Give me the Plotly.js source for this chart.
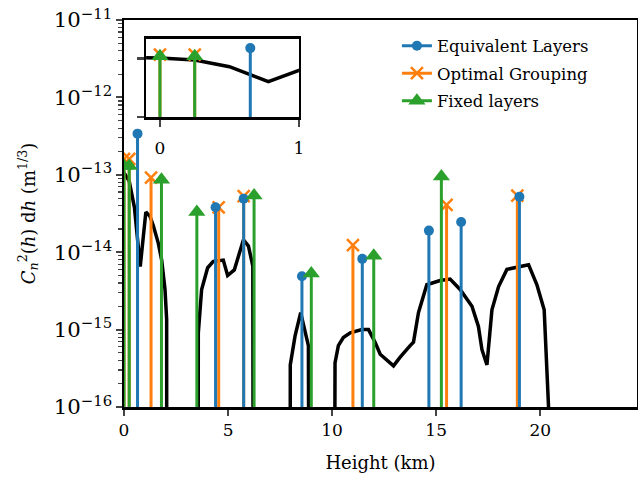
<!DOCTYPE html>
<html><head><meta charset="utf-8">
<script src="https://cdn.plot.ly/plotly-3.0.1.min.js"></script>
<style>html,body{margin:0;padding:0;background:#fff}#chart{width:638px;height:479px}</style>
</head><body><div id="chart"></div>
<script>
// Black profile: height (km) and Cn2(h) dh (0 = no turbulence)
const profileHeights = [-0.1, 0, 0.25, 0.5, 0.78, 1.05, 1.25, 1.41, 1.65, 1.81, 1.97, 2.05, 2.07,
  3.52, 3.57, 3.73, 4.02, 4.29, 4.77, 4.98, 5.30, 5.53, 5.74, 5.98, 6.19, 6.27,
  7.97, 7.99, 8.22, 8.49, 8.86, 9.02,
  10.0, 10.14, 10.30, 10.54, 10.87, 11.43, 11.75, 12.07, 12.31, 12.95, 13.27, 13.75, 13.91,
  14.15, 14.55, 15.19, 15.67, 16.15, 16.72, 17.03, 17.2, 17.44, 17.68, 18.0, 18.4, 19.44,
  19.84, 20.19, 20.4, 20.45];
const profileValues = [1.1e-13, 1.07e-13, 8.3e-14, 3.8e-14, 6.5e-15, 3.3e-14, 2.9e-14, 2.2e-14, 1.3e-14, 7.9e-15, 3.3e-15, 1.35e-15, 0,
  0, 9e-16, 3.3e-15, 6.3e-15, 7.6e-15, 7.9e-15, 5.0e-15, 5.9e-15, 9.8e-15, 1.45e-14, 1.2e-14, 6.6e-15, 0,
  0, 3.5e-16, 8.3e-16, 1.66e-15, 6.2e-16, 0,
  0, 3.7e-16, 6.2e-16, 7.9e-16, 9.1e-16, 1.0e-15, 1.0e-15, 6.8e-16, 4.8e-16, 3.4e-16, 4.4e-16, 6.2e-16, 6.9e-16,
  1.66e-15, 3.8e-15, 4.3e-15, 4.5e-15, 3.3e-15, 2.0e-15, 1.1e-15, 5.5e-16, 3.5e-16, 1.8e-15, 3.6e-15, 6.0e-15, 6.9e-15,
  3.8e-15, 1.8e-15, 1.0e-16, 0];

const seriesNames = ['Equivalent Layers', 'Optimal Grouping', 'Fixed layers'];
const eqHeights = [0.65, 4.4, 5.75, 8.55, 11.45, 14.65, 16.2, 19.0];
const eqValues = [3.4e-13, 3.8e-14, 4.9e-14, 4.9e-15, 8.2e-15, 1.9e-14, 2.45e-14, 5.2e-14];
const optHeights = [0, 0.25, 1.3, 4.55, 5.75, 11.0, 15.5, 18.9];
const optValues = [1.6e-13, 1.6e-13, 9.2e-14, 3.8e-14, 5.3e-14, 1.23e-14, 4.1e-14, 5.4e-14];
const fixHeights = [0, 0.25, 1.8, 3.5, 6.25, 9.0, 12.0, 15.25];
const fixValues = [1.3e-13, 1.3e-13, 8.6e-14, 3.3e-14, 5.4e-14, 5.3e-15, 9.0e-15, 9.5e-14];

const xTicks = [0, 5, 10, 15, 20];
const insetXTicks = [0, 1];
const insetYTicks = [1e-16, 1e-13];

const FLOOR = 1e-30;      // log-scale clip for zero values
const STEM_BASE = 1e-17;  // stem baseline below the visible range
const C_EQ = '#1f77b4', C_OPT = '#ff7f0e', C_FIX = '#2ca02c';

function stemXY(hs, vs) {
  const x = [], y = [];
  hs.forEach((h, i) => { x.push(h, h, null); y.push(STEM_BASE, vs[i], null); });
  return {x, y};
}
const profY = profileValues.map(v => v > 0 ? v : FLOOR);

function makeTraces(xa, ya, legend) {
  const eq = stemXY(eqHeights, eqValues), op = stemXY(optHeights, optValues), fx = stemXY(fixHeights, fixValues);
  return [
    {x: profileHeights, y: profY, xaxis: xa, yaxis: ya, mode: 'lines', line: {color: '#000', width: 3.5}, showlegend: false, hoverinfo: 'skip'},
    {x: op.x, y: op.y, xaxis: xa, yaxis: ya, mode: 'lines+markers', name: seriesNames[1], legendrank: 2, legendgroup: 'g2', showlegend: legend,
     line: {color: C_OPT, width: 3}, marker: {symbol: 'x-thin-open', size: 12, color: C_OPT, line: {color: C_OPT, width: 2.5}}},
    {x: eq.x, y: eq.y, xaxis: xa, yaxis: ya, mode: 'lines+markers', name: seriesNames[0], legendrank: 1, legendgroup: 'g1', showlegend: legend,
     line: {color: C_EQ, width: 3}, marker: {symbol: 'circle', size: 10, color: C_EQ}},
    {x: fx.x, y: fx.y, xaxis: xa, yaxis: ya, mode: 'lines+markers', name: seriesNames[2], legendrank: 3, legendgroup: 'g3', showlegend: legend,
     line: {color: C_FIX, width: 3}, marker: {symbol: 'triangle-up', size: 15, color: C_FIX}}
  ];
}

const data = makeTraces('x', 'y', true).concat(makeTraces('x2', 'y2', false));

const FONT = 'DejaVu Serif';
const F = (s) => ({family: FONT, size: s, color: '#000'});
const layout = {
  width: 638, height: 479,
  margin: {l: 124, r: 1, t: 20, b: 72},
  paper_bgcolor: '#fff', plot_bgcolor: '#fff',
  font: F(17),
  showlegend: true,
  legend: {x: 0.532, y: 0.978, xanchor: 'left', yanchor: 'top', font: F(16.5), tracegroupgap: 3,
           bgcolor: 'rgba(255,255,255,0)', traceorder: 'grouped'},
  xaxis: {range: [0, 24.65], tickvals: xTicks, ticktext: xTicks.map(String), ticks: 'outside', ticklen: 6, tickwidth: 2,
          linecolor: '#000', linewidth: 2.5, mirror: true, showgrid: false, zeroline: false,
          tickfont: F(17), title: {text: 'Height (km)', font: F(18), standoff: 18}},
  yaxis: {type: 'log', range: [-16, -11], dtick: 1, exponentformat: 'power', showexponent: 'all',
          ticks: 'outside', ticklen: 6, tickwidth: 2, linecolor: '#000', linewidth: 2.5, mirror: true,
          showgrid: false, zeroline: false, tickfont: F(17),
          minor: {dtick: 'D1', ticks: 'outside', ticklen: 3.5, tickwidth: 1.2, showgrid: false},
          title: {text: '<i>C</i><sub><i>n</i></sub><sup>2</sup>(<i>h</i>) d<i>h</i> (m<sup>1/3</sup>)', font: F(18), standoff: 14}},
  xaxis2: {domain: [0.043, 0.341], anchor: 'y2', range: [-0.1, 1], tickvals: insetXTicks, ticktext: insetXTicks.map(String),
           ticks: 'outside', ticklen: 7, tickwidth: 2.5, linecolor: '#000', linewidth: 2.5, mirror: true,
           showgrid: false, zeroline: false, tickfont: F(17), ticklabelstandoff: 7},
  yaxis2: {domain: [0.749, 0.951], anchor: 'x2', type: 'log', range: [-16, -12], tickvals: insetYTicks,
           showticklabels: false, ticks: 'outside', ticklen: 7, tickwidth: 2.5, linecolor: '#000', linewidth: 2.5,
           mirror: true, showgrid: false, zeroline: false}
};

Plotly.newPlot('chart', data, layout, {staticPlot: true, displayModeBar: false});
</script>
</body></html>
